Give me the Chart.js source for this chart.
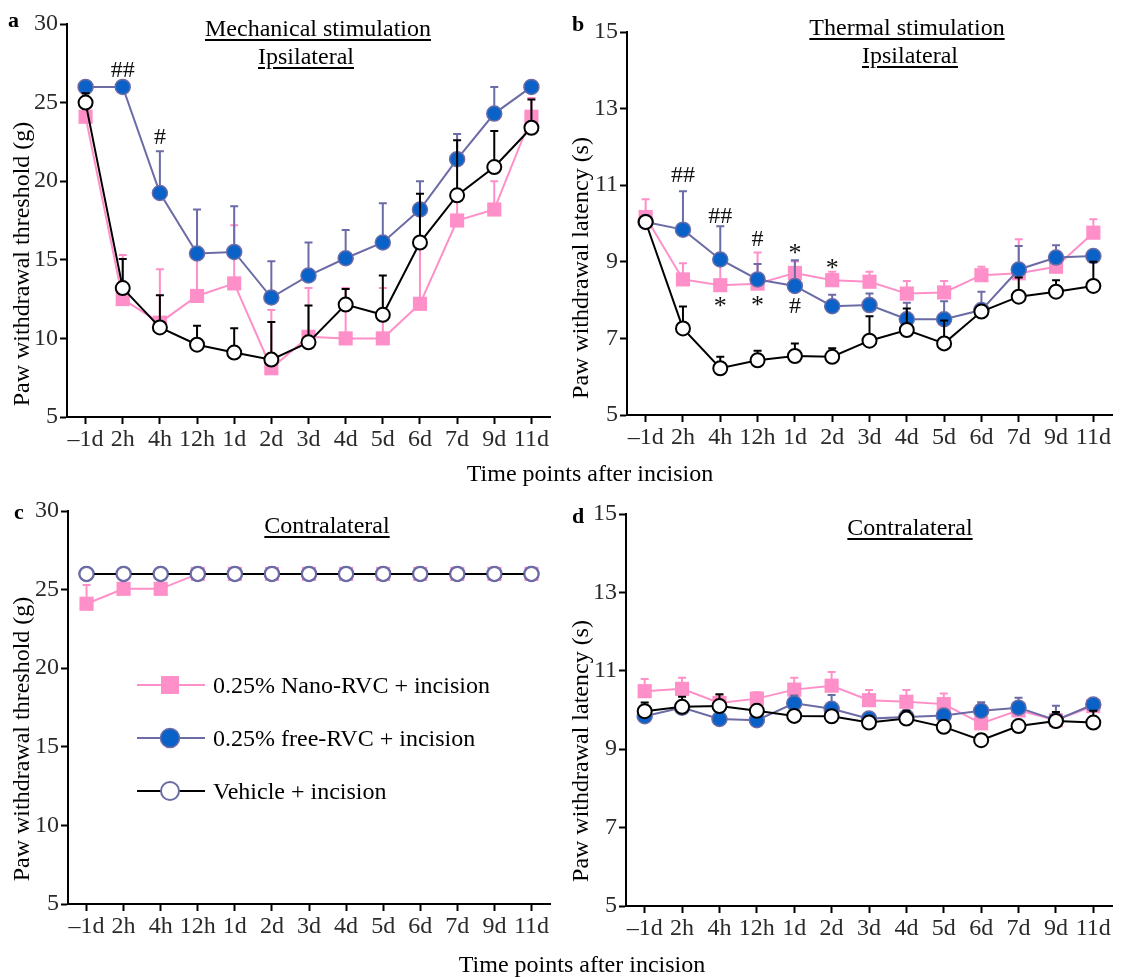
<!DOCTYPE html>
<html>
<head>
<meta charset="utf-8">
<script src="https://cdn.jsdelivr.net/npm/chart.js@4.4.0/dist/chart.umd.min.js"></script>
<style>
body { margin: 0; background: #fff; width: 1122px; height: 977px; position: relative; overflow: hidden;
       font-family: "Liberation Serif", "Times New Roman", serif; }
.panel { position: absolute; }
.txt { position: absolute; white-space: nowrap; color: #000; font-size: 24px; line-height: 28px; }
.ttl { text-decoration: underline; text-decoration-thickness: 2px; text-underline-offset: 3px; transform: translateX(-50%); text-align: center; }
.ytl { transform: translate(-50%, -50%) rotate(-90deg); }
.letter { font-weight: bold; font-size: 22px; }
</style>
</head>
<body>
<div class="panel" style="left:0;top:0"><canvas id="chartA" width="560" height="490"></canvas></div>
<div class="panel" style="left:560px;top:0"><canvas id="chartB" width="562" height="490"></canvas></div>
<div class="panel" style="left:0;top:490px"><canvas id="chartC" width="560" height="487"></canvas></div>
<div class="panel" style="left:560px;top:490px"><canvas id="chartD" width="562" height="487"></canvas></div>

<div class="txt letter" style="left:8px;top:6px">a</div>
<div class="txt letter" style="left:572px;top:10px">b</div>
<div class="txt letter" style="left:14px;top:498px">c</div>
<div class="txt letter" style="left:572px;top:502px">d</div>

<div class="txt ttl" style="left:318px;top:14px">Mechanical stimulation</div>
<div class="txt ttl" style="left:306px;top:42px">Ipsilateral</div>
<div class="txt ttl" style="left:907px;top:13px">Thermal stimulation</div>
<div class="txt ttl" style="left:910px;top:41px">Ipsilateral</div>
<div class="txt ttl" style="left:327px;top:511px">Contralateral</div>
<div class="txt ttl" style="left:910px;top:513px">Contralateral</div>

<div class="txt ytl" style="left:21px;top:264px">Paw withdrawal threshold (g)</div>
<div class="txt ytl" style="left:580px;top:268px">Paw withdrawal latency (s)</div>
<div class="txt ytl" style="left:21px;top:739px">Paw withdrawal threshold (g)</div>
<div class="txt ytl" style="left:580px;top:751px">Paw withdrawal latency (s)</div>

<div class="txt" style="left:590px;top:459px;transform:translateX(-50%)">Time points after incision</div>
<div class="txt" style="left:582px;top:950px;transform:translateX(-50%)">Time points after incision</div>

<script>
// time points and group names
var timeLabels = ['\u20131d', '2h', '4h', '12h', '1d', '2d', '3d', '4d', '5d', '6d', '7d', '9d', '11d'];
var groupNames = ['0.25% Nano-RVC + incision', '0.25% free-RVC + incision', 'Vehicle + incision'];

// a: mechanical, ipsilateral (g)
var mechNano     = [24.1, 12.5, 11.0, 12.7, 13.5, 8.1, 10.1, 10.0, 10.0, 12.2, 17.5, 18.2, 24.1];
var mechNanoErr  = [0, 2.8, 3.4, 2.5, 3.7, 3.7, 3.1, 3.2, 3.2, 3.7, 2.0, 1.8, 1.2];
var mechFree     = [26.0, 26.0, 19.25, 15.4, 15.5, 12.6, 14.0, 15.1, 16.1, 18.2, 21.4, 24.3, 26.0];
var mechFreeErr  = [0, 0, 2.65, 2.8, 2.9, 2.3, 2.1, 1.8, 2.5, 1.8, 1.6, 1.7, 0];
var mechVeh      = [25.0, 13.2, 10.7, 9.6, 9.1, 8.65, 9.75, 12.15, 11.5, 16.1, 19.1, 20.9, 23.4];
var mechVehErr   = [0.6, 1.85, 2.05, 1.2, 1.55, 2.4, 2.35, 1.0, 2.5, 3.1, 3.5, 2.3, 1.8];

// b: thermal, ipsilateral (s)
var thermNano    = [10.17, 8.54, 8.39, 8.43, 8.71, 8.52, 8.48, 8.17, 8.2, 8.65, 8.7, 8.87, 9.76];
var thermNanoErr = [0.46, 0.42, 0.84, 0.81, 0.3, 0.22, 0.26, 0.33, 0.3, 0.22, 0.89, 0.4, 0.35];
var thermFree    = [10.04, 9.84, 9.06, 8.54, 8.37, 7.84, 7.87, 7.5, 7.5, 7.74, 8.8, 9.11, 9.15];
var thermFreeErr = [0, 1.0, 0.87, 0.4, 0.67, 0.3, 0.3, 0.43, 0.47, 0.48, 0.61, 0.32, 0.1];
var thermVeh     = [10.04, 7.26, 6.22, 6.43, 6.54, 6.52, 6.94, 7.22, 6.87, 7.7, 8.09, 8.22, 8.37];
var thermVehErr  = [0, 0.57, 0.3, 0.25, 0.33, 0.22, 0.64, 0.56, 0.6, 0, 0.5, 0.3, 0.63];

// c: mechanical, contralateral (g)
var cMechNano    = [24.1, 25.05, 25.05, 26, 26, 26, 26, 26, 26, 26, 26, 26, 26];
var cMechNanoErr = [1.2, 0, 0, 0, 0, 0, 0, 0, 0, 0, 0, 0, 0];
var cMechFree    = [26, 26, 26, 26, 26, 26, 26, 26, 26, 26, 26, 26, 26];
var cMechVeh     = [26, 26, 26, 26, 26, 26, 26, 26, 26, 26, 26, 26, 26];

// d: thermal, contralateral (s)
var cThermNano    = [10.48, 10.54, 10.18, 10.29, 10.52, 10.62, 10.25, 10.21, 10.15, 9.66, 9.99, 9.74, 10.1];
var cThermNanoErr = [0.31, 0.28, 0.2, 0.16, 0.3, 0.35, 0.26, 0.3, 0.27, 0.3, 0.2, 0.2, 0.1];
var cThermFree    = [9.84, 10.06, 9.77, 9.74, 10.17, 10.03, 9.78, 9.82, 9.86, 9.98, 10.06, 9.74, 10.14];
var cThermFreeErr = [0.1, 0.1, 0.1, 0.1, 0.2, 0.35, 0.1, 0.1, 0.1, 0.22, 0.25, 0.37, 0.15];
var cThermVeh     = [9.97, 10.08, 10.1, 9.98, 9.85, 9.84, 9.68, 9.78, 9.57, 9.23, 9.59, 9.72, 9.68];
var cThermVehErr  = [0.22, 0.26, 0.3, 0.1, 0.1, 0.1, 0.15, 0.2, 0.1, 0.15, 0.1, 0.23, 0.3];

// significance marks: [time index, value, text]
var marksA = [[1, 27.0, '##'], [2, 22.75, '#']];
var marksB = [[1, 11.26, '##'], [2, 10.17, '##'], [3, 9.58, '#'], [4, 9.35, '*'], [5, 8.96, '*'],
              [2, 7.96, '*'], [3, 8.0, '*'], [4, 7.83, '#']];

const pink = '#ff8fc8';
const blueFill = '#0a62c8';
const purple = '#6b6ba6';
const serif = 'Liberation Serif';

// error bars drawn just before each dataset so markers sit on top
const errorBars = {
    id: 'errorBars',
    beforeDatasetDraw(chart, args) {
        const ds = chart.data.datasets[args.index];
        if (!ds.errors) return;
        const ctx = chart.ctx;
        const y = chart.scales.y;
        ctx.save();
        ctx.strokeStyle = ds.borderColor;
        ctx.lineWidth = 2;
        args.meta.data.forEach(function (pt, i) {
            const e = ds.errors[i];
            if (!e) return;
            const top = y.getPixelForValue(ds.data[i] + e);
            ctx.beginPath();
            ctx.moveTo(pt.x, pt.y);
            ctx.lineTo(pt.x, top);
            ctx.moveTo(pt.x - 4, top);
            ctx.lineTo(pt.x + 4, top);
            ctx.stroke();
        });
        ctx.restore();
    }
};

const sigMarks = {
    id: 'sigMarks',
    afterDatasetsDraw(chart, args, opts) {
        if (!opts.list) return;
        const ctx = chart.ctx;
        ctx.save();
        ctx.fillStyle = '#111';
        ctx.textAlign = 'center';
        ctx.textBaseline = 'middle';
        opts.list.forEach(function (m) {
            const x = chart.scales.x.getPixelForValue(m[0]);
            let y = chart.scales.y.getPixelForValue(m[1]);
            if (m[2] === '*') {
                ctx.font = '26px "' + serif + '"';
                y += 6;
            } else {
                ctx.font = '24px "' + serif + '"';
            }
            ctx.fillText(m[2], x, y);
        });
        ctx.restore();
    }
};

// legend drawn inside panel c
const groupLegend = {
    id: 'groupLegend',
    afterDraw(chart, args, opts) {
        if (!opts.show) return;
        const ctx = chart.ctx;
        const rows = [195, 248, 301];
        ctx.save();
        rows.forEach(function (ry, i) {
            ctx.lineWidth = 2;
            ctx.strokeStyle = [pink, purple, '#000'][i];
            ctx.beginPath();
            ctx.moveTo(137, ry);
            ctx.lineTo(205, ry);
            ctx.stroke();
            if (i === 0) {
                ctx.fillStyle = pink;
                ctx.fillRect(161, ry - 9, 18, 18);
            } else if (i === 1) {
                ctx.beginPath();
                ctx.arc(170, ry, 9.5, 0, Math.PI * 2);
                ctx.fillStyle = blueFill;
                ctx.fill();
                ctx.lineWidth = 1.5;
                ctx.strokeStyle = purple;
                ctx.stroke();
            } else {
                ctx.beginPath();
                ctx.arc(170, ry, 9, 0, Math.PI * 2);
                ctx.fillStyle = '#fff';
                ctx.fill();
                ctx.lineWidth = 2;
                ctx.strokeStyle = purple;
                ctx.stroke();
            }
            ctx.fillStyle = '#000';
            ctx.font = '24px "' + serif + '"';
            ctx.textAlign = 'left';
            ctx.textBaseline = 'middle';
            ctx.fillText(groupNames[i], 213, ry + 2);
        });
        ctx.restore();
    }
};

function makeDatasets(veh, vehErr, free, freeErr, nano, nanoErr, vehEdge) {
    return [
        { label: groupNames[2], data: veh, errors: vehErr, borderColor: '#000', borderWidth: 2,
          pointStyle: 'circle', pointRadius: 7, pointBackgroundColor: '#fff',
          pointBorderColor: vehEdge || '#000', pointBorderWidth: 2 },
        { label: groupNames[1], data: free, errors: freeErr, borderColor: purple, borderWidth: 2,
          pointStyle: 'circle', pointRadius: 7.5, pointBackgroundColor: blueFill,
          pointBorderColor: purple, pointBorderWidth: 1.5 },
        { label: groupNames[0], data: nano, errors: nanoErr, borderColor: pink, borderWidth: 2,
          pointStyle: 'rect', pointRadius: 10, pointBackgroundColor: pink,
          pointBorderColor: pink, pointBorderWidth: 0 }
    ];
}

function makePanel(id, cfg) {
    return new Chart(document.getElementById(id), {
        type: 'line',
        data: { labels: timeLabels, datasets: cfg.datasets },
        options: {
            responsive: false,
            animation: false,
            layout: { padding: cfg.padding },
            plugins: {
                legend: { display: false },
                tooltip: { enabled: false },
                sigMarks: { list: cfg.marks },
                groupLegend: { show: !!cfg.legend }
            },
            scales: {
                x: {
                    offset: true,
                    grid: { offset: false, drawOnChartArea: false, tickLength: 7, tickColor: '#000', tickWidth: 2 },
                    border: { color: '#000', width: 2 },
                    ticks: { autoSkip: false, maxRotation: 0, padding: 1, color: '#2a2a2a',
                             font: { family: serif, size: 24 } },
                    afterFit: function (s) { s.height = cfg.xHeight; }
                },
                y: {
                    min: cfg.min, max: cfg.max,
                    grid: { drawOnChartArea: false, tickLength: 7, tickColor: '#000', tickWidth: 2 },
                    border: { color: '#000', width: 2 },
                    ticks: { stepSize: cfg.step, padding: 2, color: '#2a2a2a',
                             font: { family: serif, size: 24 } },
                    afterFit: function (s) { s.width = cfg.yWidth; }
                }
            }
        },
        plugins: [errorBars, sigMarks, groupLegend]
    });
}

makePanel('chartA', {
    datasets: makeDatasets(mechVeh, mechVehErr, mechFree, mechFreeErr, mechNano, mechNanoErr),
    min: 5, max: 30, step: 5,
    padding: { left: 0, right: 3, top: 24, bottom: 0 }, yWidth: 67, xHeight: 73,
    marks: marksA
});

makePanel('chartB', {
    datasets: makeDatasets(thermVeh, thermVehErr, thermFree, thermFreeErr, thermNano, thermNanoErr),
    min: 5, max: 15, step: 2,
    padding: { left: 0, right: 4, top: 32, bottom: 0 }, yWidth: 67, xHeight: 75,
    marks: marksB
});

makePanel('chartC', {
    datasets: makeDatasets(cMechVeh, null, cMechFree, null, cMechNano, cMechNanoErr, purple),
    min: 5, max: 30, step: 5,
    padding: { left: 0, right: 2, top: 21, bottom: 0 }, yWidth: 68, xHeight: 73,
    legend: true
});

makePanel('chartD', {
    datasets: makeDatasets(cThermVeh, cThermVehErr, cThermFree, cThermFreeErr, cThermNano, cThermNanoErr),
    min: 5, max: 15, step: 2,
    padding: { left: 0, right: 4, top: 24, bottom: 0 }, yWidth: 66, xHeight: 71
});
</script>
</body>
</html>
